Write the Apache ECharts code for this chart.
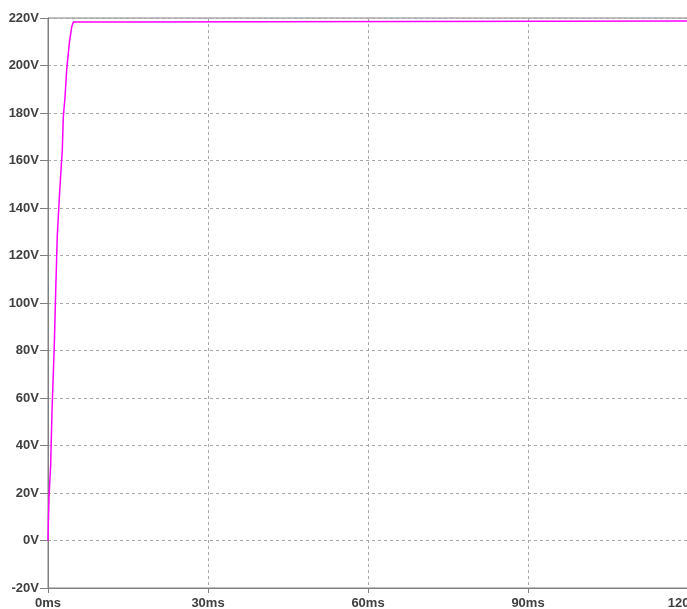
<!DOCTYPE html>
<html>
<head>
<meta charset="utf-8">
<script src="https://cdn.jsdelivr.net/npm/echarts@6/dist/echarts.min.js"></script>
<style>
html,body{margin:0;padding:0;background:#fff;}
#c{width:687px;height:609px;}
</style>
</head>
<body>
<div id="c"></div>
<script>
// Time (ms) and voltage (V) samples
const timeMs = [0, 0.06, 0.19, 0.5, 0.75, 1.0, 1.18, 1.44, 1.74, 2.12, 2.38, 2.68, 2.87, 3.19, 3.5, 4.0, 4.44, 4.75, 14.8, 14.9, 120];
const voltage = [0, 6.5, 18.3, 31.8, 54.1, 70.5, 82.3, 104.6, 128.2, 144.2, 153.9, 164.4, 178.3, 186.7, 198.1, 209.5, 216.2, 218.3, 218.3, 218.7, 218.7];
const xTicks = { min: 0, max: 120, step: 30, unit: 'ms' };
const yTicks = { min: -20, max: 220, step: 20, unit: 'V' };

const chart = echarts.init(document.getElementById('c'), null, { renderer: 'canvas' });
const labelStyle = { color: '#404040', fontWeight: 'bold', fontSize: 13, fontFamily: 'Liberation Sans, Arial, sans-serif' };
chart.setOption({
  animation: false,
  backgroundColor: '#ffffff',
  grid: { left: 48, top: 18, right: -1, bottom: 21, containLabel: false, outerBoundsMode: 'none', show: true, borderColor: '#808080', borderWidth: 1, backgroundColor: 'transparent' },
  xAxis: {
    type: 'value', min: xTicks.min, max: xTicks.max, interval: xTicks.step,
    axisLine: { show: true, onZero: false, lineStyle: { color: '#808080', width: 1 } },
    axisTick: { show: true, length: 5, lineStyle: { color: '#808080' } },
    axisLabel: Object.assign({ formatter: v => v + xTicks.unit, margin: 9, showMaxLabel: true, hideOverlap: false }, labelStyle),
    splitLine: { show: true, lineStyle: { color: '#a8a8a8', type: [3, 3], width: 1 } }
  },
  yAxis: {
    type: 'value', min: yTicks.min, max: yTicks.max, interval: yTicks.step,
    axisLine: { show: true, onZero: false, lineStyle: { color: '#808080', width: 1 } },
    axisTick: { show: true, length: 8, lineStyle: { color: '#808080' } },
    axisLabel: Object.assign({ formatter: v => v + yTicks.unit, margin: 9 }, labelStyle),
    splitLine: { show: true, lineStyle: { color: '#a8a8a8', type: [3, 3], width: 1 } }
  },
  series: [{
    type: 'line',
    data: timeMs.map((t, i) => [t, voltage[i]]),
    showSymbol: false,
    lineStyle: { color: '#ff00ff', width: 1.5 },
    itemStyle: { color: '#ff00ff' },
    clip: true
  }]
});
</script>
</body>
</html>
